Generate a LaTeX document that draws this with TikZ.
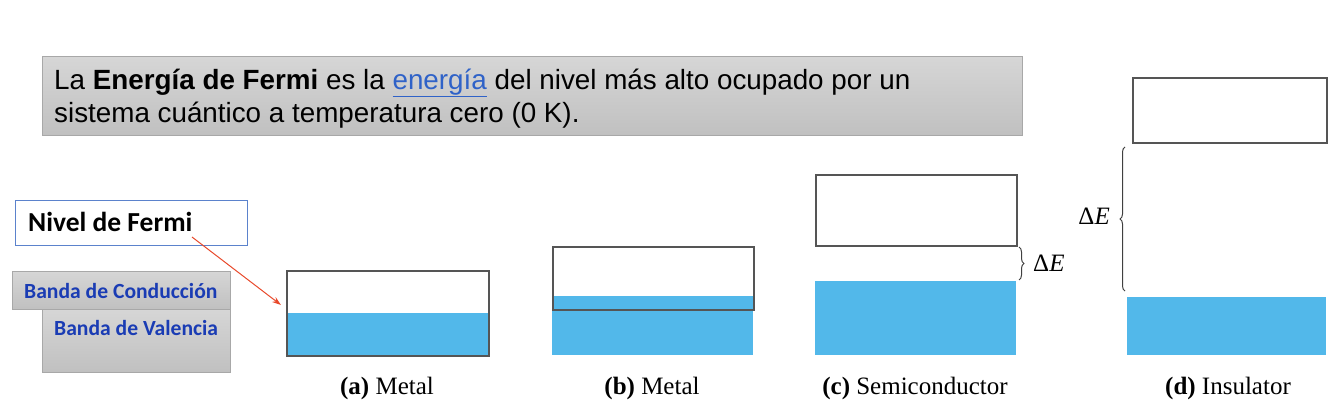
\documentclass[tikz,border=0pt]{standalone}
\usepackage{fontspec}
\setmainfont{Liberation Sans}
\newfontfamily\serifcap{Liberation Serif}
\newfontfamily\calib{Carlito}
\usetikzlibrary{decorations.pathreplacing,arrows.meta}
\definecolor{bandblue}{HTML}{52B8EA}
\definecolor{boxedge}{HTML}{555555}
\definecolor{grayedge}{HTML}{A8A8A8}
\definecolor{graytop}{HTML}{D6D6D6}
\definecolor{graybot}{HTML}{C0C0C0}
\definecolor{linkblue}{HTML}{2F62C8}
\definecolor{labelblue}{HTML}{1A3CB4}
\definecolor{fermiedge}{HTML}{5B82CC}
\definecolor{arrowred}{HTML}{E8492B}
\tikzset{
  graybox/.style={draw=grayedge, line width=0.8pt, top color=graytop, bottom color=graybot, inner sep=0pt},
  bandbox/.style={draw=boxedge, line width=1.6pt},
  bluefill/.style={fill=bandblue, draw=none},
  caption/.style={font=\serifcap\fontsize{25}{28}\selectfont, anchor=base},
  deltae/.style={font=\serifcap\fontsize{25}{28}\selectfont},
  bracestyle/.style={draw=black!75, line width=1pt, decorate, decoration={brace, amplitude=5pt}}
}
\begin{document}
\begin{tikzpicture}[x=1pt,y=-1pt]
\useasboundingbox (0,0) rectangle (1344,408);
% top definition box
\node[graybox, minimum width=980pt, minimum height=79pt, anchor=north west] (defbox) at (42,56) {};
\node[anchor=base west, inner sep=0pt, font=\fontsize{27.8}{30}\selectfont] (defl1) at (54,89) {La \textbf{Energía de Fermi} es la \textcolor{linkblue}{\underline{energía}} del nivel más alto ocupado por un};
\node[anchor=base west, inner sep=0pt, font=\fontsize{27.8}{30}\selectfont] (defl2) at (54,122) {sistema cuántico a temperatura cero (0 K).};
% left labels
\node[draw=fermiedge, line width=1pt, fill=white, minimum width=232pt, minimum height=45pt, anchor=north west] (fermi) at (15,200) {};
\node[anchor=base west, inner sep=0pt, font=\calib\bfseries\fontsize{27.5}{30}\selectfont] (fermitext) at (28,231) {Nivel de Fermi};
\node[graybox, minimum width=188pt, minimum height=63pt, anchor=north west] (valbox) at (42,309) {};
\node[graybox, minimum width=218pt, minimum height=38pt, anchor=north west] (condbox) at (12,271) {};
\node[anchor=base west, inner sep=0pt, font=\calib\bfseries\fontsize{21.6}{24}\selectfont, text=labelblue] (condtext) at (24,298) {Banda de Conducción};
\node[anchor=base west, inner sep=0pt, font=\calib\bfseries\fontsize{21.6}{24}\selectfont, text=labelblue] (valtext) at (54,335) {Banda de Valencia};
% (a) metal
\fill[bandblue] (286,313) rectangle (488,355);
\node[bandbox, minimum width=202pt, minimum height=85pt, anchor=north west] (boxa) at (286,270) {};
% (b) metal
\fill[bandblue] (552,296) rectangle (753,355);
\node[bandbox, minimum width=201pt, minimum height=63pt, anchor=north west] (boxb) at (552,246) {};
% (c) semiconductor
\node[bandbox, minimum width=201pt, minimum height=71pt, anchor=north west] (boxc) at (815,174) {};
\node[bluefill, minimum width=201pt, minimum height=74pt, anchor=north west, inner sep=0pt] (bluec) at (815,281) {};
\draw[bracestyle] (1019,247) -- (1019,280);
\node[deltae, anchor=west, inner sep=0pt] (dec) at (1033,263) {Δ\textit{E}};
% (d) insulator
\node[bandbox, minimum width=194pt, minimum height=65pt, anchor=north west] (boxd) at (1132,77) {};
\node[bluefill, minimum width=199pt, minimum height=58pt, anchor=north west, inner sep=0pt] (blued) at (1127,297) {};
\draw[bracestyle] (1125,291) -- (1125,147);
\node[deltae, anchor=east, inner sep=0pt] (ded) at (1110,216) {Δ\textit{E}};
% captions
\node[caption] (capa) at (387,394) {\textbf{(a)} Metal};
\node[caption] (capb) at (652,394) {\textbf{(b)} Metal};
\node[caption] (capc) at (915,394) {\textbf{(c)} Semiconductor};
\node[caption] (capd) at (1228,394) {\textbf{(d)} Insulator};
% arrow
\coordinate (arrS) at (192,237);
\coordinate (arrE) at (281,305);
\draw[arrowred, line width=1pt, -{Stealth[length=9pt,width=6pt]}] (arrS) -- (arrE);
\end{tikzpicture}
\end{document}
